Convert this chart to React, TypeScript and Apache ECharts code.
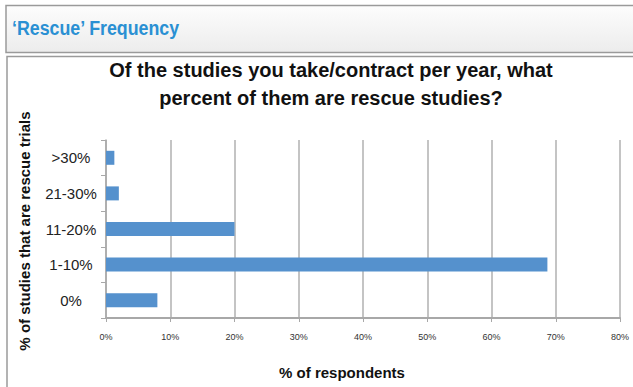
import React, { useEffect, useRef } from "react";
import * as echarts from "echarts";

const categories = ["0%", "1-10%", "11-20%", "21-30%", ">30%"];
const values = [8.0, 68.7, 20.0, 2.0, 1.3];
const xTicks = [0, 10, 20, 30, 40, 50, 60, 70, 80];

export default function App() {
  const ref = useRef<HTMLDivElement>(null);
  useEffect(() => {
    const chart = echarts.init(ref.current!, null, { renderer: "svg" });
    chart.setOption({
      animation: false,
      backgroundColor: "#ffffff",
      graphic: [
        {
          type: "rect",
          shape: { x: 6, y: 5.5, width: 640, height: 47 },
          style: {
            fill: new echarts.graphic.LinearGradient(0, 0, 0, 1, [
              { offset: 0, color: "#fdfdfd" },
              { offset: 1, color: "#ececec" },
            ]),
            stroke: "#9a9a9a",
            lineWidth: 1.5,
          },
          z: -10,
        },
        {
          type: "rect",
          shape: { x: 7, y: 56.5, width: 640, height: 340 },
          style: { fill: "#ffffff", stroke: "#9a9a9a", lineWidth: 1.5 },
          z: -10,
        },
        {
          type: "text",
          x: 12,
          y: 28,
          scaleX: 0.89,
          style: {
            text: "\u2018Rescue\u2019 Frequency",
            fill: "#2a90d3",
            font: "bold 20px 'Liberation Sans', Arial, sans-serif",
            textVerticalAlign: "middle",
          },
        },
      ],
      title: {
        text: "Of the studies you take/contract per year, what\npercent of them are rescue studies?",
        left: 326,
        textAlign: "center",
        top: 51,
        textStyle: {
          fontFamily: "'Liberation Sans', Arial, sans-serif",
          fontWeight: "bold",
          fontSize: 20,
          lineHeight: 28,
          color: "#111",
        },
      },
      grid: { left: 106, right: 13, top: 140, bottom: 69 },
      xAxis: {
        type: "value",
        min: 0,
        max: 80,
        interval: 10,
        name: "% of respondents",
        nameLocation: "middle",
        nameGap: 47,
        nameTextStyle: {
          fontFamily: "'Liberation Sans', Arial, sans-serif",
          fontWeight: "bold",
          fontSize: 15,
          color: "#111",
          padding: [0, 42, 0, 0],
        },
        axisLine: { show: true, lineStyle: { color: "#a8a8a8", width: 2 } },
        axisTick: { show: true, length: 4, lineStyle: { color: "#a8a8a8" } },
        axisLabel: {
          formatter: (v: number) => (xTicks.includes(v) ? v + "%" : ""),
          fontSize: 9,
          color: "#333",
          margin: 14,
          fontFamily: "'Liberation Sans', Arial, sans-serif",
        },
        splitLine: { show: true, lineStyle: { color: "#b0b0b0", width: 1.5 } },
      },
      yAxis: {
        type: "category",
        data: categories,
        name: "% of studies that are rescue trials",
        nameLocation: "middle",
        nameGap: 74,
        nameRotate: 90,
        nameTextStyle: {
          fontFamily: "'Liberation Sans', Arial, sans-serif",
          fontWeight: "bold",
          fontSize: 15,
          color: "#111",
          padding: [0, 4, 0, 0],
        },
        axisLine: { show: true, lineStyle: { color: "#a8a8a8", width: 1.5 } },
        axisTick: { show: true, length: 5, lineStyle: { color: "#a8a8a8" } },
        axisLabel: {
          fontSize: 15,
          color: "#222",
          margin: 35,
          align: "center",
          fontFamily: "'Liberation Sans', Arial, sans-serif",
        },
      },
      series: [
        {
          type: "bar",
          data: values,
          barWidth: 14,
          itemStyle: { color: "#5591cd" },
        },
      ],
    });
    return () => chart.dispose();
  }, []);
  return <div ref={ref} style={{ width: 633, height: 387, position: "absolute", left: 0, top: 0 }} />;
}
